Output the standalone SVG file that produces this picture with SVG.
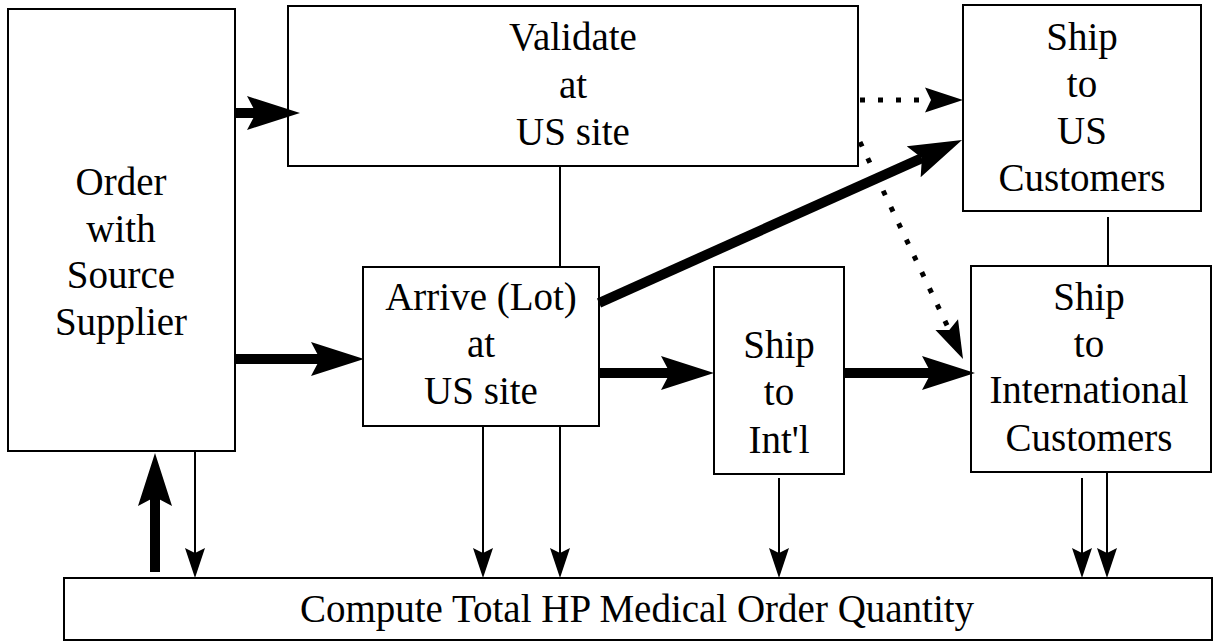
<svg xmlns="http://www.w3.org/2000/svg" width="1215" height="642" viewBox="0 0 1215 642">
<style>
.box{fill:#fff;stroke:#000;stroke-width:2}
.t{font-family:"Liberation Serif","Times New Roman",serif;font-size:39px;fill:#000;text-anchor:middle}
.thick{fill:none;stroke:#000;stroke-width:10}
.thin{fill:none;stroke:#000;stroke-width:2}
.dot{fill:none;stroke:#000;stroke-width:5;stroke-dasharray:5 13}
</style>
<defs>
<marker id="hThick" markerUnits="userSpaceOnUse" viewBox="0 -20 60 40" refX="9" refY="0" markerWidth="60" markerHeight="40" orient="auto" overflow="visible">
<path d="M0,-17 L53,0 L0,17 L9,0 Z" fill="#000"/>
</marker>
<marker id="hThin" markerUnits="userSpaceOnUse" viewBox="0 -12 35 24" refX="5" refY="0" markerWidth="35" markerHeight="24" orient="auto" overflow="visible">
<path d="M0,-10 L30,0 L0,10 L5,0 Z" fill="#000"/>
</marker>
<marker id="hDot" markerUnits="userSpaceOnUse" viewBox="0 -14 42 28" refX="6" refY="0" markerWidth="42" markerHeight="28" orient="auto" overflow="visible">
<path d="M0,-12.5 L38,0 L0,12.5 L6,0 Z" fill="#000"/>
</marker>
</defs>
<g id="order">
<rect class="box" x="8" y="9" width="227" height="442"/>
<text class="t" x="121" y="195">Order</text>
<text class="t" x="121" y="242">with</text>
<text class="t" x="121" y="288">Source</text>
<text class="t" x="121" y="335">Supplier</text>
</g>
<g id="validate">
<rect class="box" x="288" y="6" width="570" height="160"/>
<text class="t" x="573" y="50">Validate</text>
<text class="t" x="573" y="98">at</text>
<text class="t" x="573" y="145">US site</text>
</g>
<g id="shipUS">
<rect class="box" x="963" y="5" width="238" height="206"/>
<text class="t" x="1082" y="50">Ship</text>
<text class="t" x="1082" y="97">to</text>
<text class="t" x="1082" y="144">US</text>
<text class="t" x="1082" y="191">Customers</text>
</g>
<g id="arrive">
<rect class="box" x="363" y="267" width="236" height="159"/>
<text class="t" x="481" y="310">Arrive (Lot)</text>
<text class="t" x="481" y="357">at</text>
<text class="t" x="481" y="404">US site</text>
</g>
<g id="shipIntl">
<rect class="box" x="714" y="267" width="130" height="207"/>
<text class="t" x="779" y="358">Ship</text>
<text class="t" x="779" y="405">to</text>
<text class="t" x="779" y="453">Int'l</text>
</g>
<g id="shipIntlCustomers">
<rect class="box" x="971" y="266" width="240" height="206"/>
<text class="t" x="1089" y="310">Ship</text>
<text class="t" x="1089" y="357">to</text>
<text class="t" x="1089" y="403">International</text>
<text class="t" x="1089" y="451">Customers</text>
</g>
<g id="compute">
<rect class="box" x="64" y="578" width="1148" height="62"/>
<text class="t" x="637" y="622">Compute Total HP Medical Order Quantity</text>
</g>
<g id="connectors">
<path class="thick" d="M235,113 H256" marker-end="url(#hThick)"/>
<path class="thick" d="M235,359 H320" marker-end="url(#hThick)"/>
<path class="thick" d="M599,373 H670" marker-end="url(#hThick)"/>
<path class="thick" d="M844,373 H931" marker-end="url(#hThick)"/>
<path class="thick" d="M155,572 V497" marker-end="url(#hThick)"/>
<path class="thick" d="M599,303 L921.9,158.1" marker-end="url(#hThick)"/>
<path class="thin" d="M195,451 V553" marker-end="url(#hThin)"/>
<path class="thin" d="M483,426 V553" marker-end="url(#hThin)"/>
<path class="thin" d="M560,426 V553" marker-end="url(#hThin)"/>
<path class="thin" d="M779,478 V553" marker-end="url(#hThin)"/>
<path class="thin" d="M1082,478 V553" marker-end="url(#hThin)"/>
<path class="thin" d="M1107,472 V553" marker-end="url(#hThin)"/>
<path class="thin" d="M560,166 V267"/>
<path class="thin" d="M1108,217 V266"/>
<path class="dot" d="M860,100 H931" marker-end="url(#hDot)"/>
<path class="dot" d="M860,142 L949.3,330.1" marker-end="url(#hDot)"/>
</g>
</svg>
